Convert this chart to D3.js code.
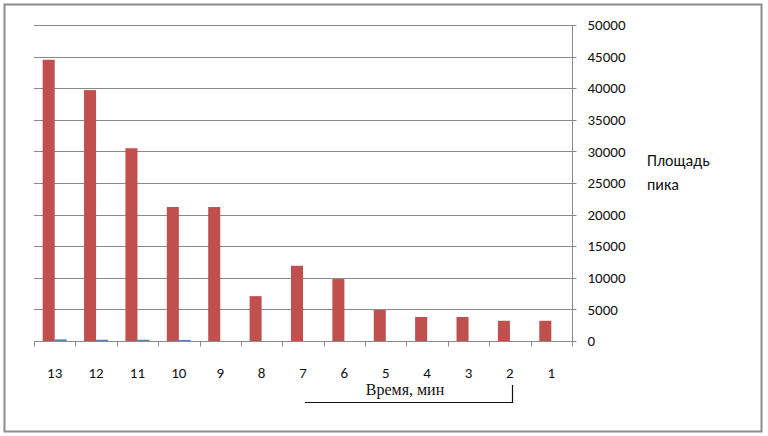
<!DOCTYPE html>
<html>
<head>
<meta charset="utf-8">
<script src="https://cdn.jsdelivr.net/npm/d3@7"></script>
<style>
  body { margin: 0; background: #fff; }
  svg text { font-family: Calibri, Carlito, "Open Sans", "Liberation Sans", Arial, sans-serif; }
</style>
</head>
<body>
<div id="chart"></div>
<script>
//chart data
var categories = ['13', '12', '11', '10', '9', '8', '7', '6', '5', '4', '3', '2', '1'];
var areaValues = [44500, 39700, 30500, 21200, 21200, 7100, 11900, 9800, 4900, 3800, 3800, 3200, 3200];
var smallValues = [250, 200, 200, 150, 0, 0, 0, 0, 0, 0, 0, 0, 0];
var yTicks = [0, 5000, 10000, 15000, 20000, 25000, 30000, 35000, 40000, 45000, 50000];

var width = 768, height = 436,
    plot = { left: 34, right: 572, top: 25, bottom: 341 };

var svg = d3.select('#chart').append('svg')
    .attr('width', width)
    .attr('height', height);

//outer frame
svg.append('rect')
    .attr('x', 4.5).attr('y', 4.5)
    .attr('width', 757).attr('height', 427)
    .attr('fill', '#fff')
    .attr('stroke', '#8c8c8c')
    .attr('stroke-width', 2);

//scales
var x = d3.scaleBand().domain(categories).range([plot.left, plot.right]).padding(0);
var inner = d3.scaleBand().domain(['area', 'small']).range([0, x.bandwidth()]).paddingOuter(0.72).paddingInner(0);
var y = d3.scaleLinear().domain([0, 50000]).range([plot.bottom, plot.top]);

//gridlines
svg.append('g').selectAll('line')
    .data(yTicks.slice(1))
    .enter().append('line')
    .attr('x1', plot.left).attr('x2', plot.right)
    .attr('y1', function (d) { return Math.round(y(d)) + 0.5; })
    .attr('y2', function (d) { return Math.round(y(d)) + 0.5; })
    .attr('stroke', '#8a8a8a')
    .attr('stroke-width', 1);

//bars
var groups = svg.append('g').selectAll('g')
    .data(categories)
    .enter().append('g')
    .attr('transform', function (d) { return 'translate(' + x(d) + ',0)'; });

groups.append('rect')
    .attr('x', inner('area'))
    .attr('width', inner.bandwidth())
    .attr('y', function (d, i) { return y(areaValues[i]); })
    .attr('height', function (d, i) { return plot.bottom - y(areaValues[i]); })
    .attr('fill', '#c0504d');

groups.append('rect')
    .attr('x', inner('small'))
    .attr('width', inner.bandwidth())
    .attr('y', function (d, i) { return y(smallValues[i]); })
    .attr('height', function (d, i) { return plot.bottom - y(smallValues[i]); })
    .attr('fill', '#4f81bd');

//x axis
var xAxisG = svg.append('g')
    .attr('transform', 'translate(0,' + (plot.bottom + 0.5) + ')');
xAxisG.append('line')
    .attr('x1', plot.left).attr('x2', plot.right)
    .attr('stroke', '#8a8a8a');
xAxisG.selectAll('line.tick')
    .data(d3.range(categories.length + 1))
    .enter().append('line')
    .attr('class', 'tick')
    .attr('x1', function (d) { return Math.round(plot.left + d * x.step()) + 0.5; })
    .attr('x2', function (d) { return Math.round(plot.left + d * x.step()) + 0.5; })
    .attr('y1', 0).attr('y2', 5)
    .attr('stroke', '#8a8a8a');
xAxisG.selectAll('text')
    .data(categories)
    .enter().append('text')
    .attr('x', function (d) { return x(d) + x.bandwidth() / 2; })
    .attr('y', 36)
    .attr('text-anchor', 'middle')
    .attr('font-size', 15)
    .attr('fill', '#111')
    .text(function (d) { return d; });

//y axis on the right
var yAxisG = svg.append('g')
    .attr('transform', 'translate(' + (plot.right + 0.5) + ',0)');
yAxisG.append('line')
    .attr('y1', plot.top).attr('y2', plot.bottom + 5)
    .attr('stroke', '#8a8a8a');
yAxisG.selectAll('line.tick')
    .data(yTicks)
    .enter().append('line')
    .attr('class', 'tick')
    .attr('x1', -4).attr('x2', 4)
    .attr('y1', function (d) { return Math.round(y(d)) + 0.5; })
    .attr('y2', function (d) { return Math.round(y(d)) + 0.5; })
    .attr('stroke', '#8a8a8a');
yAxisG.selectAll('text')
    .data(yTicks)
    .enter().append('text')
    .attr('x', 15)
    .attr('y', function (d) { return y(d); })
    .attr('dy', '0.35em')
    .attr('font-size', 15)
    .attr('fill', '#111')
    .text(function (d) { return d; });

//y axis title
svg.append('text')
    .attr('x', 647).attr('y', 166)
    .attr('font-size', 16)
    .attr('fill', '#111')
    .text('Площадь');
svg.append('text')
    .attr('x', 647).attr('y', 190)
    .attr('font-size', 16)
    .attr('fill', '#111')
    .text('пика');

//x axis title with bracket
svg.append('text')
    .attr('x', 405).attr('y', 395)
    .attr('text-anchor', 'middle')
    .attr('font-size', 16)
    .style('font-family', '"Liberation Serif", "Times New Roman", serif')
    .attr('fill', '#111')
    .text('Время, мин');
svg.append('path')
    .attr('d', 'M305,402.5H512.5V385')
    .attr('fill', 'none')
    .attr('stroke', '#111')
    .attr('stroke-width', 1.2);
</script>
</body>
</html>
